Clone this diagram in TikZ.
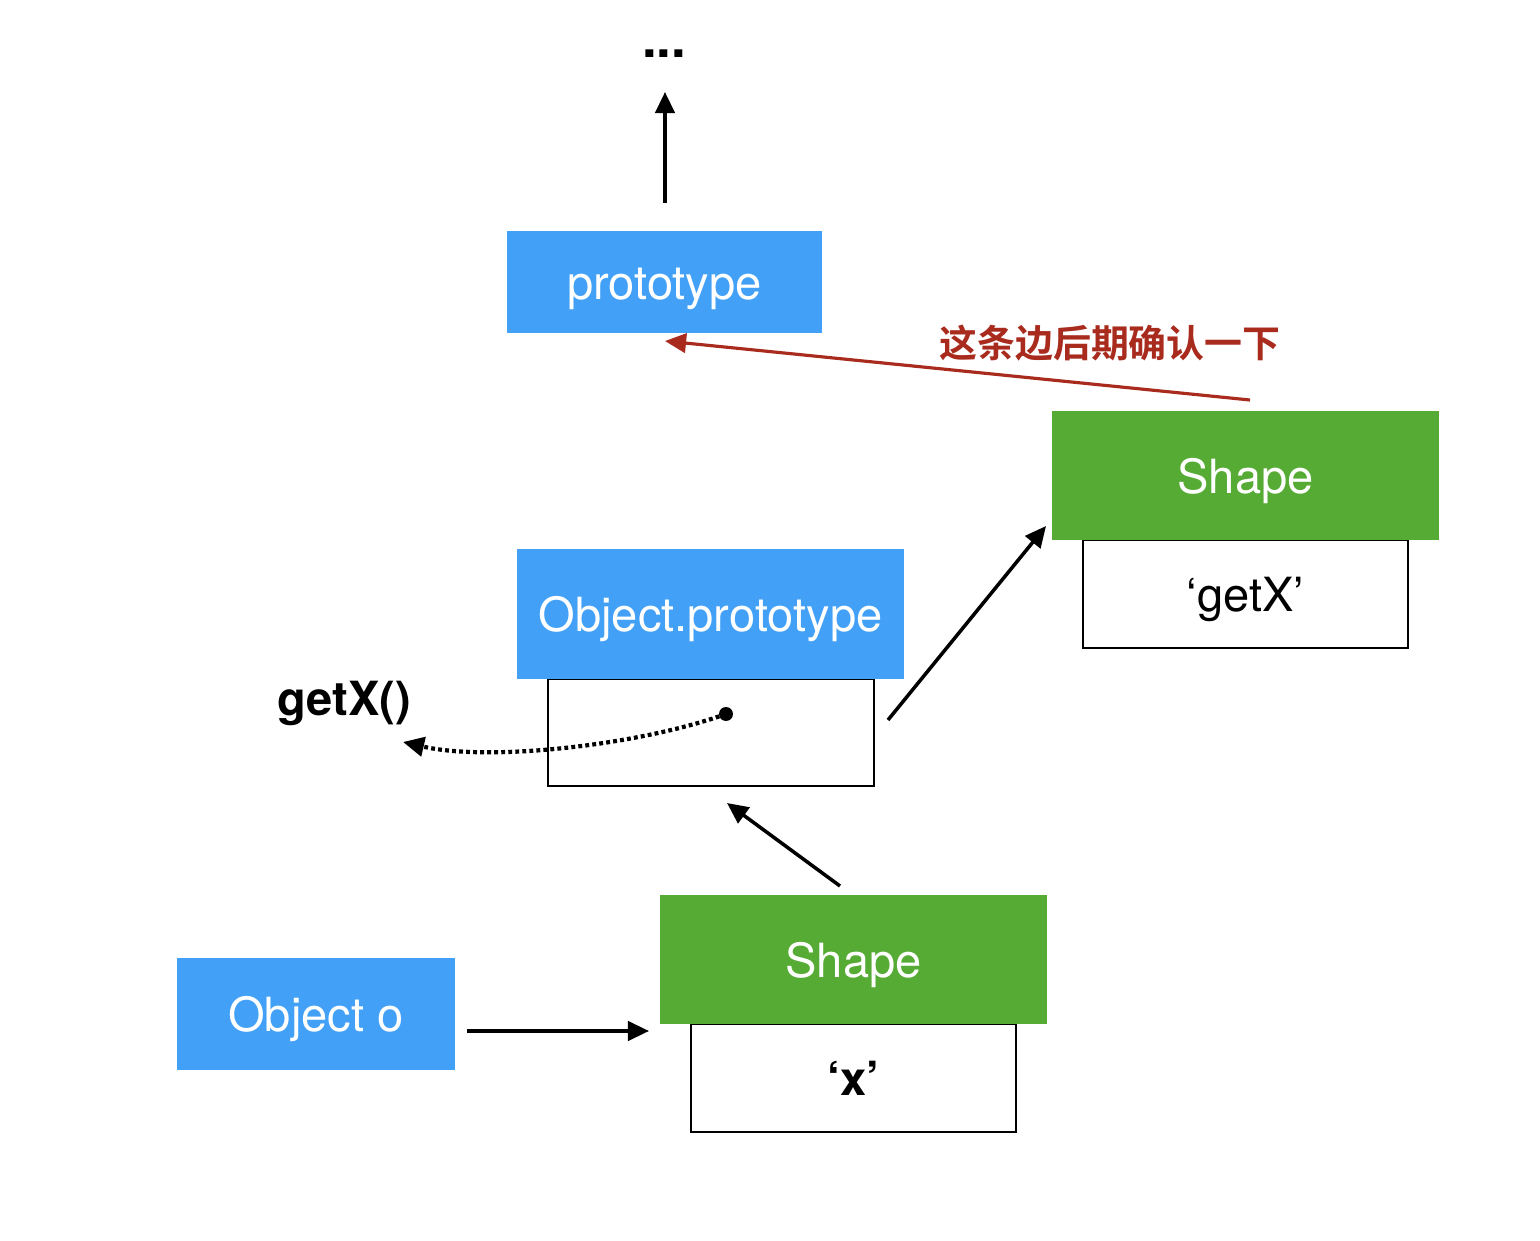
\documentclass[tikz,border=0pt]{standalone}
\usepackage{fontspec}
\setmainfont{TeX Gyre Heros}
\newfontfamily\cjk{Noto Sans CJK SC}[BoldFont={Noto Sans CJK SC Bold}]
\usetikzlibrary{arrows.meta}
\definecolor{objblue}{RGB}{66,161,247}
\definecolor{shapegreen}{RGB}{85,171,52}
\definecolor{noteRed}{RGB}{168,43,30}
\tikzset{
  boxtext/.style={inner sep=0pt, text height=11.4pt, text depth=1.2pt, font=\fontsize{13.4}{16}\selectfont},
  bluebox/.style={rectangle, fill=objblue, text=white, boxtext},
  greenbox/.style={rectangle, fill=shapegreen, text=white, boxtext, minimum width=3.87cm, minimum height=1.29cm},
  slotbox/.style={rectangle, draw=black, line width=0.7pt, fill=white, boxtext, minimum width=3.25cm, minimum height=1.07cm},
}
\begin{document}
\begin{tikzpicture}[line width=1pt, >={Triangle[length=6pt,width=5.5pt]}]
\useasboundingbox (0,0) rectangle (15.4,12.4);
% boxes
\node (proto) at (6.645,9.58) [bluebox, minimum width=3.15cm, minimum height=1.02cm] {prototype};
\node (objslot) at (7.11,5.075) [slotbox, minimum width=3.26cm] {};
\node (objproto) at (7.105,6.26) [bluebox, minimum width=3.87cm, minimum height=1.30cm] {Object.prototype};
\node (getslot) at (12.455,6.46) [slotbox, minimum height=1.08cm] {‘getX’};
\node (shapetop) at (12.455,7.645) [greenbox] {Shape};
\node (xslot) at (8.535,1.62) [slotbox, minimum height=1.08cm] {\textbf{‘x’}};
\node (shapebot) at (8.535,2.805) [greenbox] {Shape};
\node (objo) at (3.16,2.26) [bluebox, minimum width=2.78cm, minimum height=1.12cm] {Object o};
% labels
\node (more) at (6.64,11.86) [font=\fontsize{15}{18}\selectfont\bfseries] {...};
\node (getx) at (3.44,5.37) [font=\fontsize{13.4}{16}\selectfont\bfseries] {getX()};
\node (note) at (11.10,8.97) [text=noteRed, font=\cjk\fontsize{10.8}{13}\selectfont\bfseries] {这条边后期确认一下};
% arrow ends
\coordinate (upS) at (6.65,10.37);
\coordinate (upE) at (6.65,11.48);
\coordinate (redS) at (12.50,8.40);
\coordinate (redE) at (6.65,8.99);
\coordinate (dot) at (7.26,5.26);
\coordinate (dotE) at (4.03,4.98);
\coordinate (pS) at (8.88,5.20);
\coordinate (pE) at (10.46,7.14);
\coordinate (sS) at (8.40,3.54);
\coordinate (sE) at (7.27,4.37);
\coordinate (oS) at (4.67,2.09);
\coordinate (oE) at (6.49,2.09);
% connectors
\draw[->] (upS) -- (upE);
\draw[->, draw=noteRed, fill=noteRed, line width=0.9pt] (redS) -- (redE);
\fill (dot) circle (0.07);
\draw[->, dash pattern=on 1.1pt off 0.9pt, line width=1.2pt] (dot) .. controls (6.4,4.95) and (4.9,4.78) .. (dotE);
\draw[->] (pS) -- (pE);
\draw[->] (sS) -- (sE);
\draw[->] (oS) -- (oE);
\end{tikzpicture}
\end{document}
